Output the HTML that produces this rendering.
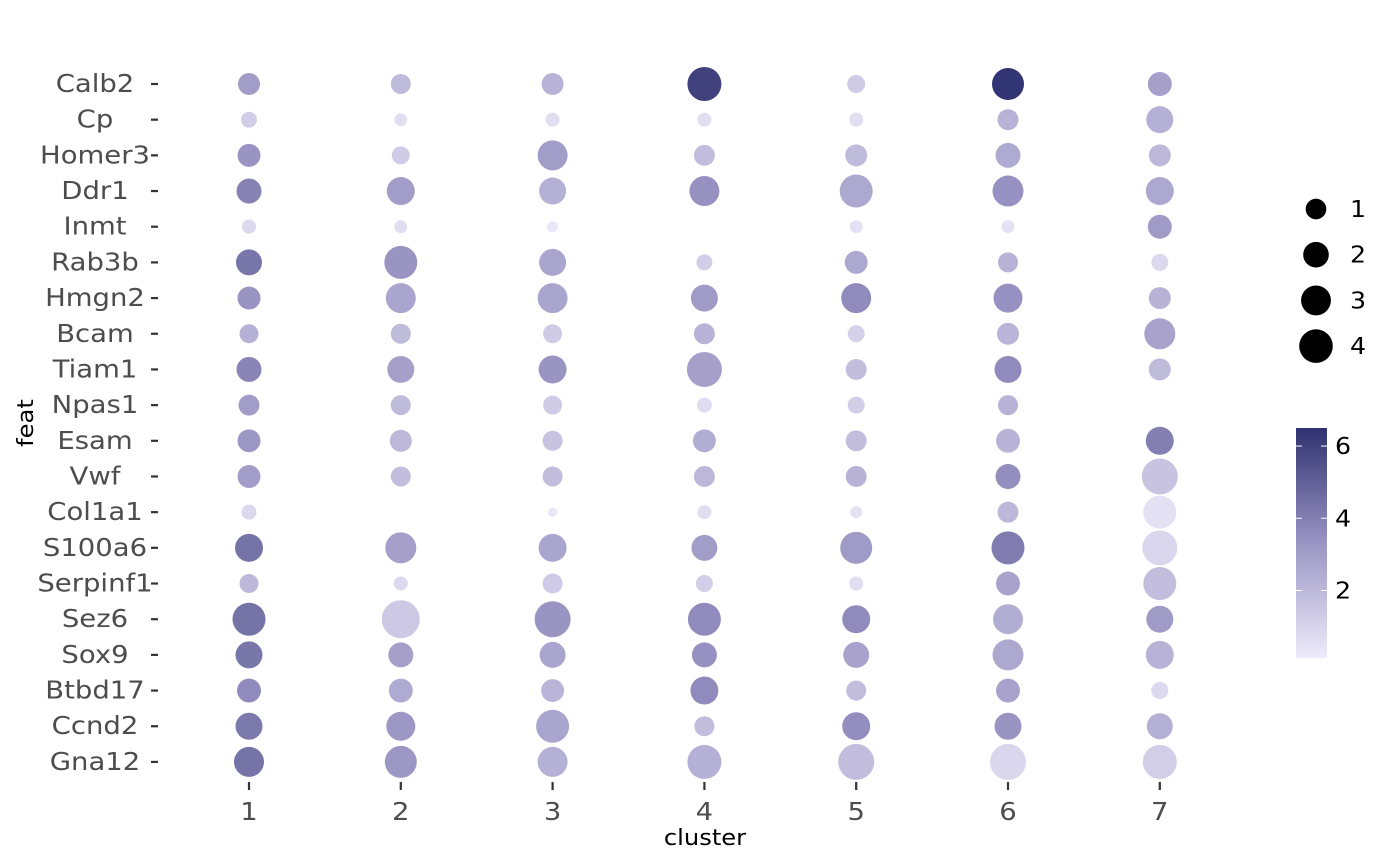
<!DOCTYPE html>
<html><head><meta charset="utf-8">
<style>
html,body{margin:0;padding:0;background:#fff;}
svg{display:block;font-family:"DejaVu Sans","Liberation Sans",sans-serif;}
</style></head>
<body>
<svg id="chart" width="1400" height="866" viewBox="0 0 1400 866" xmlns="http://www.w3.org/2000/svg">
<g id="yaxis"></g>
<g id="xaxis"></g>
<g id="dots"></g>
<text transform="translate(705,845) scale(1.1,1)" font-size="22" text-anchor="middle" fill="#000">cluster</text>
<text transform="translate(33,423) rotate(-90) scale(1.1,1)" font-size="22" text-anchor="middle" fill="#000">feat</text>
<g id="sizeLegend"></g>
<defs>
<linearGradient id="cbgrad" x1="0" y1="1" x2="0" y2="0">
<stop offset="0" stop-color="#EEEBFA"/>
<stop offset="0.5" stop-color="#9A94C3"/>
<stop offset="1" stop-color="#2F3270"/>
</linearGradient>
</defs>
<g id="colorLegend"></g>
</svg>
<script>
const features = ["Calb2","Cp","Homer3","Ddr1","Inmt","Rab3b","Hmgn2","Bcam","Tiam1","Npas1","Esam","Vwf","Col1a1","S100a6","Serpinf1","Sez6","Sox9","Btbd17","Ccnd2","Gna12"];
const clusters = ["1","2","3","4","5","6","7"];
const sizeValues = [
[0.89,0.56,0.89,3.56,0.25,3.03,1.25],
[-0.02,-0.37,-0.25,-0.25,-0.25,0.71,1.86],
[1.06,0.25,2.54,0.71,0.89,1.44,0.89],
[1.44,2.08,1.86,2.54,3.29,2.78,2.08],
[-0.25,-0.37,-0.56,null,-0.37,-0.37,1.25],
[1.65,3.29,1.86,-0.02,1.06,0.56,0.12],
[1.06,2.54,2.54,1.86,2.54,2.30,0.89],
[0.40,0.56,0.40,0.71,0.12,0.89,2.78],
[1.44,1.86,2.08,3.83,0.71,1.86,0.89],
[0.71,0.56,0.40,-0.14,0.12,0.56,null],
[1.06,0.89,0.56,1.06,0.71,1.25,2.08],
[1.06,0.56,0.56,0.71,0.71,1.44,4.11],
[-0.14,null,-0.71,-0.25,-0.46,0.71,3.29],
[2.08,2.78,2.08,1.65,3.03,3.29,3.83],
[0.40,-0.25,0.56,0.12,-0.25,1.25,3.29],
[3.29,4.70,4.11,3.29,2.08,2.54,1.86],
[1.86,1.44,1.65,1.44,1.65,2.78,2.08],
[1.25,1.25,1.06,2.08,0.56,1.25,0.12],
[1.86,2.30,3.29,0.56,2.08,1.86,1.65],
[2.54,3.03,2.54,3.56,4.11,4.11,3.56]
];
const colorValues = [
[3.0,1.9,2.2,6.0,1.3,6.4,2.9],
[1.2,0.6,0.6,0.6,0.6,2.2,2.3],
[3.3,1.3,3.0,1.8,1.9,2.5,2.0],
[3.9,3.0,2.3,3.4,2.6,3.4,2.6],
[0.8,0.6,0.3,null,0.5,0.5,3.1],
[4.3,3.3,2.7,1.2,2.6,2.2,0.8],
[3.3,2.7,2.7,3.1,3.6,3.4,2.2],
[2.3,1.9,1.3,2.2,1.1,2.1,2.8],
[3.8,2.9,3.3,2.9,1.8,3.6,1.9],
[3.0,1.9,1.3,0.7,1.2,2.2,null],
[3.2,2.0,1.6,2.4,1.8,2.2,4.0],
[3.0,1.8,1.8,2.0,2.2,3.5,1.6],
[0.8,null,0.3,0.6,0.5,2.0,0.5],
[4.4,2.9,2.7,3.0,3.1,4.1,0.9],
[2.0,0.8,1.3,1.2,0.6,2.8,1.8],
[4.4,1.4,3.3,3.6,3.6,2.4,3.1],
[4.3,2.9,2.7,3.4,2.8,2.6,2.2],
[3.6,2.5,2.1,3.6,1.8,2.8,0.8],
[4.2,3.2,2.7,1.8,3.5,3.3,2.3],
[4.4,3.2,2.3,2.3,1.8,0.9,1.2]
];
const sizeLegendValues = [1,2,3,4];
const colorTicks = [2,4,6];

const NS="http://www.w3.org/2000/svg";
function mk(tag,attrs,parent){const e=document.createElementNS(NS,tag);for(const k in attrs)e.setAttribute(k,attrs[k]);parent.appendChild(e);return e;}
const SX=1.1, FS=25;
const xScale = i => 249 + i*151.8;
const yScale = i => 84 + i*35.68;
const rScale = v => Math.sqrt(Math.max(4, 65 + 63*v));
const cMin=0.13, cMax=6.5;
const stops=[[0,[0xEE,0xEB,0xFA]],[0.5,[0x9A,0x94,0xC3]],[1,[0x2F,0x32,0x70]]];
function colorScale(v){let t=Math.max(0,Math.min(1,(v-cMin)/(cMax-cMin)));let a=stops[0],b=stops[1];if(t>0.5){a=stops[1];b=stops[2];}const u=(t-a[0])/(b[0]-a[0]);const c=a[1].map((x,i)=>Math.round(x+(b[1][i]-x)*u));return `rgb(${c[0]},${c[1]},${c[2]})`;}

const yg=document.getElementById('yaxis');
features.forEach((f,i)=>{
  const t=mk('text',{transform:`translate(95,${yScale(i)+8}) scale(${SX},1)`,'font-size':FS,'text-anchor':'middle',fill:'#4d4d4d'},yg);
  t.textContent=f;
  
  
  const l=mk('line',{x1:151,x2:158,y1:yScale(i),y2:yScale(i),stroke:'#333','stroke-width':2.2},yg);
  
  
});
const xg=document.getElementById('xaxis');
clusters.forEach((c,i)=>{
  const l=mk('line',{x1:xScale(i),x2:xScale(i),y1:782,y2:790,stroke:'#333','stroke-width':2.2},xg);
  
  
  const t=mk('text',{transform:`translate(${xScale(i)},820) scale(${SX},1)`,'font-size':FS,'text-anchor':'middle',fill:'#4d4d4d'},xg);
  t.textContent=c;
  
  
});
const dg=document.getElementById('dots');
features.forEach((f,i)=>{clusters.forEach((c,j)=>{
  const s=sizeValues[i][j], cv=colorValues[i][j];
  if(s===null||cv===null)return;
  const d=mk('circle',{cx:xScale(j),cy:yScale(i),r:rScale(s),fill:colorScale(cv)},dg);
  
  
});});
const sl=document.getElementById('sizeLegend');
sizeLegendValues.forEach((v,i)=>{
  const y=209+i*45.7;
  const d=mk('circle',{cx:1316,cy:y,r:rScale(v)-1,fill:'#000'},sl);
  
  
  const t=mk('text',{transform:`translate(1350,${y+8}) scale(${SX},1)`,'font-size':23,fill:'#000'},sl);
  t.textContent=v;
  
  
});
const cl=document.getElementById('colorLegend');
const cbTop=428, cbBot=658, cbX=1296, cbW=31;
const bar=mk('rect',{x:cbX,y:cbTop,width:cbW,height:cbBot-cbTop,fill:'url(#cbgrad)'},cl);


const cy=v=>cbBot-(v-cMin)/(cMax-cMin)*(cbBot-cbTop);
colorTicks.forEach(v=>{
  const y=cy(v);
  const a=mk('line',{x1:cbX,x2:cbX+6,y1:y,y2:y,stroke:'#fff','stroke-width':1},cl);
  
  
  const b=mk('line',{x1:cbX+cbW-6,x2:cbX+cbW,y1:y,y2:y,stroke:'#fff','stroke-width':1},cl);
  
  
  const t=mk('text',{transform:`translate(1335,${y+8}) scale(${SX},1)`,'font-size':23,fill:'#000'},cl);
  t.textContent=v;
  
  
});
</script>
</body></html>
